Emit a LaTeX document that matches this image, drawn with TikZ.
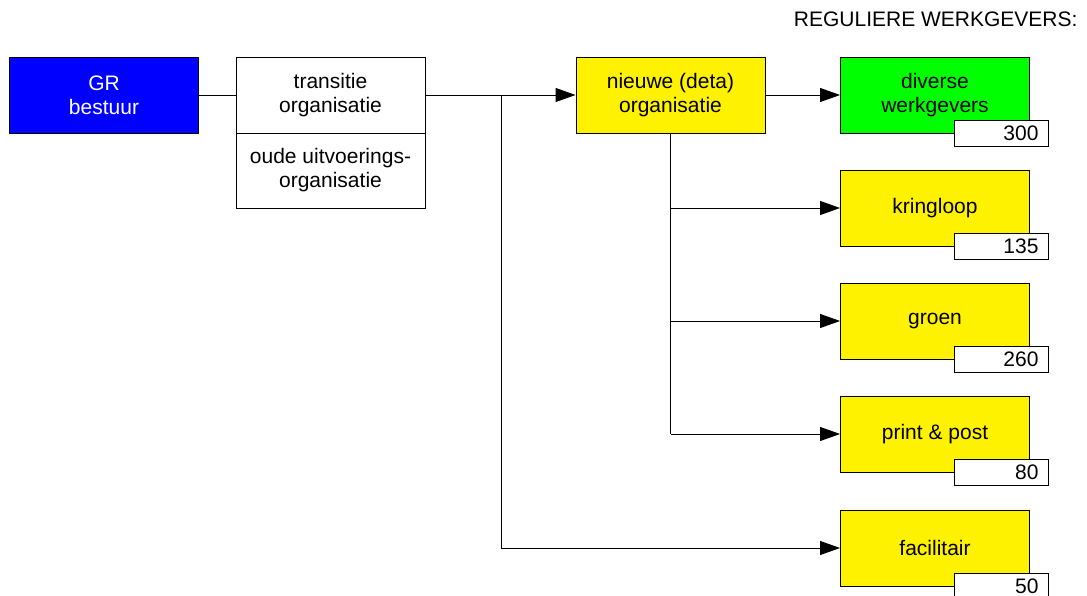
\documentclass[tikz,border=0pt]{standalone}
\usepackage{fontspec}
\setmainfont{Liberation Sans}
\usetikzlibrary{arrows.meta}

\begin{document}
\begin{tikzpicture}[x=1pt, y=-1pt,
    box/.style={draw, line width=0.9pt, minimum width=189pt, minimum height=76pt,
      inner sep=0pt, align=center, font=\fontsize{21}{24}\selectfont},
    numbox/.style={draw, line width=0.9pt, fill=white, minimum width=94pt, minimum height=26pt,
      inner sep=0pt, text width=74pt, align=right, anchor=east, font=\fontsize{21}{22}\selectfont},
    arr/.style={line width=0.9pt, -{Triangle[length=20pt, width=14pt]}},
    link/.style={line width=0.9pt}]
  \useasboundingbox (0,0) rectangle (1087,596);

  \node[anchor=east, font=\fontsize{21}{22}\selectfont] (title) at (1081,19) {REGULIERE WERKGEVERS:};

  \node[box, fill=blue, text=white] (gr) at (104,95) {GR\\bestuur};
  \node[box] (trans) at (330.5,95) {transitie\\organisatie};
  \node[box, minimum height=75pt] (oud) at (330.5,170.5) {oude uitvoerings-\\organisatie};
  \node[box, fill=yellow] (nieuw) at (670.5,95) {nieuwe (deta)\\organisatie};
  \node[box, fill=green] (div) at (935,95) {diverse\\werkgevers};
  \node[numbox] (divnum) at ([xshift=19pt]div.south east) {300};

  \foreach \name/\y/\txt/\num in {kring/208/kringloop/135, groen/321/groen/260,
      print/434/print \& post/80, fac/548/facilitair/50} {
    \node[box, fill=yellow] (\name) at (935,\y) {\txt};
    \node[numbox] (\name num) at ([xshift=19pt]\name.south east) {\num};
  }

  \coordinate (split) at (501,95);
  \draw[link] (gr) -- (trans);
  \draw[arr] (trans) -- (nieuw);
  \draw[arr] (split) |- (fac);
  \draw[arr] (nieuw) -- (div);
  \draw[link] (nieuw.south) -- (nieuw.south |- print);
  \foreach \name in {kring, groen, print}
    \draw[arr] (nieuw.south |- \name) -- (\name);
\end{tikzpicture}
\end{document}
